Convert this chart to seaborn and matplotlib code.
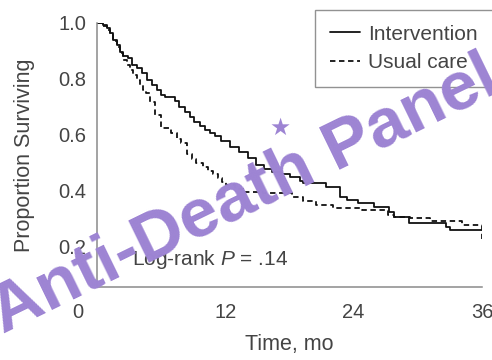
import matplotlib
matplotlib.use("Agg")
import matplotlib.pyplot as plt
import matplotlib.transforms as mtransforms
import seaborn as sns
import pandas as pd

# Kaplan-Meier steps (time in months, proportion surviving)
intervention_t = [0, 0.59, 0.90, 1.21, 1.52, 1.84, 2.15, 2.46, 2.92, 3.24, 3.70, 4.17,
                  4.63, 5.10, 5.57, 6.03, 6.35, 7.3, 7.7, 8.2, 8.65, 9.1, 9.6, 10.1,
                  10.6, 11.0, 11.6, 12.4, 13.3, 14.1, 14.9, 15.6, 16.4, 17.2, 18.0,
                  19.0, 19.3, 21.4, 22.7, 23.4, 24.4, 25.9, 27.3, 27.8, 29.2, 32.6,
                  33.0, 36.0]
intervention_s = [1.0, 0.993, 0.981, 0.963, 0.939, 0.921, 0.897, 0.880, 0.874, 0.850,
                  0.838, 0.820, 0.796, 0.778, 0.760, 0.742, 0.735, 0.72, 0.70, 0.68,
                  0.663, 0.646, 0.63, 0.616, 0.605, 0.595, 0.575, 0.556, 0.537, 0.515,
                  0.49, 0.478, 0.467, 0.458, 0.449, 0.435, 0.425, 0.413, 0.377, 0.365,
                  0.353, 0.341, 0.323, 0.305, 0.281, 0.269, 0.257, 0.257]

usual_t = [0, 0.59, 0.90, 1.21, 1.52, 1.84, 2.15, 2.46, 2.77, 3.08, 3.39, 3.70, 4.01,
           4.32, 4.6, 4.95, 5.4, 6.0, 6.95, 7.5, 7.9, 8.4, 8.9, 9.3, 9.9, 10.4, 10.85,
           11.3, 11.7, 12.1, 12.9, 13.65, 15.5, 18.2, 19.3, 20.5, 22.05, 24.8, 27.2,
           27.8, 29.3, 31.1, 34.1, 36.0]
usual_s = [1.0, 0.99, 0.975, 0.957, 0.935, 0.915, 0.893, 0.867, 0.849, 0.831, 0.813,
           0.796, 0.778, 0.760, 0.748, 0.718, 0.67, 0.622, 0.604, 0.585, 0.568, 0.53,
           0.512, 0.497, 0.485, 0.47, 0.46, 0.445, 0.43, 0.42, 0.405, 0.395, 0.389,
           0.377, 0.36, 0.347, 0.335, 0.33, 0.311, 0.305, 0.30, 0.29, 0.275, 0.225]

groups = ["Intervention", "Usual care"]
x_ticks = [0, 12, 24, 36]
y_ticks = [0.2, 0.4, 0.6, 0.8, 1.0]

df = pd.concat([
    pd.DataFrame({"time": intervention_t, "surv": intervention_s, "group": groups[0]}),
    pd.DataFrame({"time": usual_t, "surv": usual_s, "group": groups[1]}),
])

sns.set_theme(style="white")
plt.rcParams["font.family"] = ["Liberation Sans", "DejaVu Sans"]
plt.rcParams["mathtext.fontset"] = "custom"
plt.rcParams["mathtext.rm"] = "Liberation Sans"
plt.rcParams["mathtext.it"] = "Liberation Sans:italic"

text_color = "#444444"
axis_color = "#8a8a8a"
line_color = "#111111"
wm_color = "#9d84d3"
dash = (3, 2)

fig = plt.figure(figsize=(4.92, 3.6), dpi=100)
ax = fig.add_axes([97 / 492, 73 / 360, 385 / 492, 264 / 360])

sns.lineplot(data=df, x="time", y="surv", hue="group", style="group",
             palette={groups[0]: line_color, groups[1]: line_color},
             dashes={groups[0]: "", groups[1]: dash},
             estimator=None, sort=False, drawstyle="steps-post",
             linewidth=1.3, ax=ax, legend=False)

ax.set_xlim(0, 36)
ax.set_ylim(0.053, 1.0)
ax.set_xticks(x_ticks)
ax.set_yticks(y_ticks)
ax.set_xticklabels([str(v) for v in x_ticks])
ax.set_yticklabels([f"{v:.1f}" for v in y_ticks])

for side in ["top", "right"]:
    ax.spines[side].set_visible(False)
for side in ["left", "bottom"]:
    ax.spines[side].set_color(axis_color)
    ax.spines[side].set_linewidth(1.1)

ax.tick_params(axis="both", which="major", direction="out", length=4.5, width=1.1,
               color=axis_color, labelcolor=text_color, labelsize=14.5)
ax.tick_params(axis="x", pad=7)
ax.tick_params(axis="y", pad=3)
# the "0" label sits left of the axis corner in the original
lbl0 = ax.get_xticklabels()[0]
lbl0.set_transform(lbl0.get_transform() +
                   mtransforms.ScaledTranslation(-19 / 100, 0, fig.dpi_scale_trans))

ax.set_xlabel("Time, mo", fontsize=15.5, color=text_color, labelpad=9)
ax.set_ylabel("Proportion Surviving", fontsize=15.5, color=text_color, labelpad=17)

ax.text(3.3, 0.15, "Log-rank $P$ = .14", fontsize=15, color=text_color,
        ha="left", va="center")

handles = [plt.Line2D([], [], color=line_color, lw=1.3),
           plt.Line2D([], [], color=line_color, lw=1.3, dashes=dash)]
# the legend frame runs past the right edge of the picture in the original
leg = fig.legend(handles, groups, loc="upper left",
                 bbox_to_anchor=(315 / 492, 0, 200 / 492, 1 - 10 / 360),
                 mode="expand", borderaxespad=0,
                 frameon=True, fontsize=15, handlelength=1.45, handletextpad=0.4,
                 borderpad=0.7, labelspacing=0.45, fancybox=False)
leg.get_frame().set_edgecolor("#777777")
leg.get_frame().set_linewidth(1.0)
for t in leg.get_texts():
    t.set_color(text_color)

# watermark
fig.text(0.498, 0.458, "Anti-Death Panel", rotation=26, fontsize=50,
         fontweight="bold", color=wm_color, ha="center", va="center",
         rotation_mode="anchor", zorder=10)
fig.text(0.569, 0.644, "\u2605", fontsize=17, color=wm_color, ha="center",
         va="center", family="DejaVu Sans", zorder=10)

fig.savefig("out.png", dpi=100)
